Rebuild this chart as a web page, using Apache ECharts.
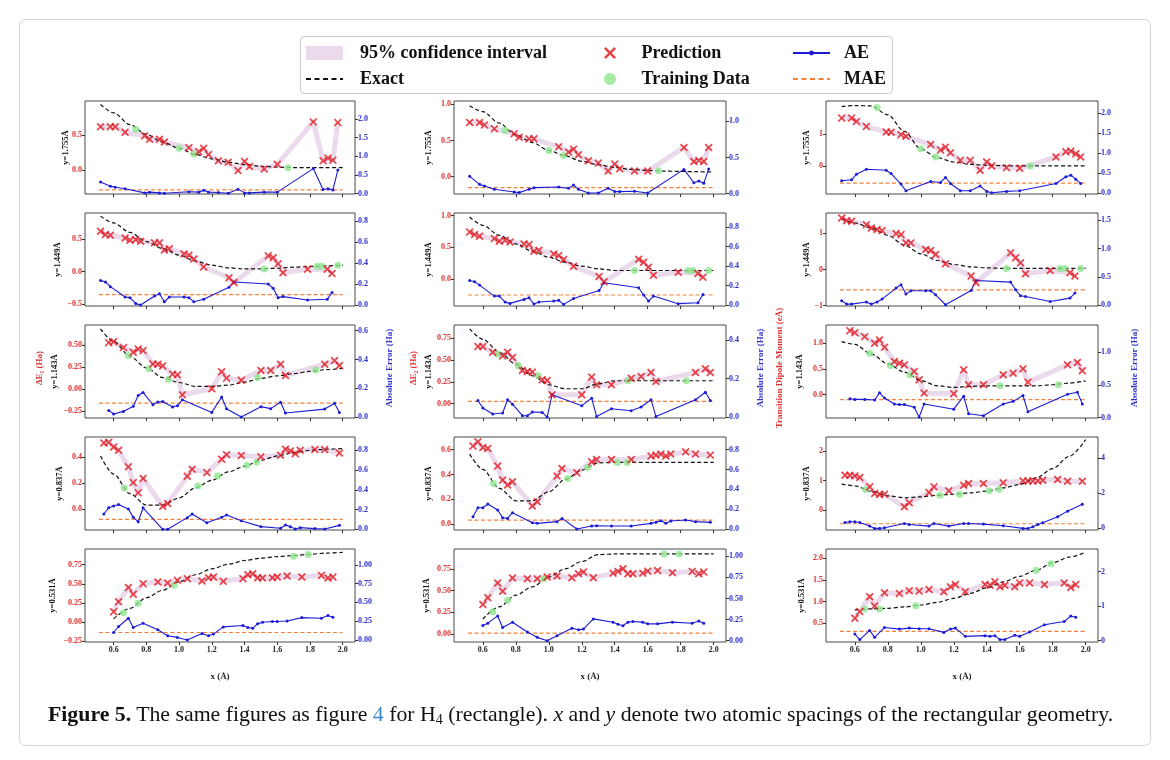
<!DOCTYPE html>
<html><head><meta charset="utf-8">
<script src="https://cdn.jsdelivr.net/npm/echarts@6/dist/echarts.min.js"></script>
<style>html,body{margin:0;padding:0;background:#fff}#c{width:1170px;height:760px}</style>
</head><body><div id="c"></div>
<script>
// ---------------- DATA ----------------
const xTickLabels = ['0.6','0.8','1.0','1.2','1.4','1.6','1.8','2.0'];
const rowNames = ['y=1.755Å','y=1.449Å','y=1.143Å','y=0.837Å','y=0.531Å'];

// test-point x per row
const xRow1 = [0.52,0.58,0.61,0.67,0.79,0.82,0.88,0.91,1.06,1.12,1.15,1.18,1.24,1.30,1.36,1.40,1.43,1.52,1.60,1.82,1.88,1.91,1.94,1.97];
const xRow2 = [0.52,0.55,0.58,0.67,0.70,0.735,0.765,0.85,0.88,0.91,0.94,1.03,1.06,1.09,1.15,1.305,1.335,1.545,1.575,1.605,1.635,1.785,1.905,1.935];
const xRow3 = [0.57,0.60,0.66,0.72,0.75,0.78,0.84,0.87,0.90,0.96,0.99,1.02,1.20,1.26,1.29,1.38,1.50,1.56,1.62,1.65,1.89,1.95,1.98];
const xRow4 = [0.54,0.57,0.60,0.63,0.69,0.72,0.75,0.78,0.90,0.93,1.05,1.08,1.17,1.26,1.29,1.38,1.50,1.62,1.65,1.68,1.71,1.74,1.83,1.89,1.98];
const xRow5 = [0.60,0.63,0.69,0.72,0.78,0.87,0.93,0.99,1.05,1.14,1.18,1.21,1.27,1.39,1.42,1.45,1.48,1.51,1.57,1.60,1.66,1.75,1.87,1.91,1.94];

// training x per row
const trainX1 = [0.735,1.0,1.09,1.665];
const trainX2 = [1.52,1.845,1.875,1.97];
const trainX3 = [0.69,0.815,0.935,1.48,1.835];
const trainX4 = [0.665,1.115,1.235,1.415,1.475];
const trainX5 = [0.66,0.75,0.97,1.70,1.79];

// exact-curve x
const exactX = [0.52,0.6,0.7,0.8,0.9,1.0,1.1,1.2,1.3,1.4,1.5,1.6,1.7,1.8,1.9,2.0];
const exactX5 = [0.6,0.7,0.8,0.9,1.0,1.1,1.2,1.3,1.4,1.5,1.6,1.7,1.8,1.9,2.0];
const maeX = [0.51,2.0];

// ---- row 1 (y=1.755) ----
const r1c1Pred = [0.62,0.62,0.62,0.54,0.49,0.44,0.44,0.40,0.32,0.26,0.31,0.22,0.13,0.11,-0.01,0.12,0.05,0.014,0.08,0.69,0.13,0.17,0.14,0.68];
const r1c1AE = [0.31,0.20,0.17,0.13,0.02,0.04,0.02,0.01,0.05,0.04,0.09,0.04,0.03,0.01,0.12,0.02,0.02,0.04,0.04,0.67,0.11,0.13,0.10,0.63];
const r1c1Exact = [0.94,0.82,0.65,0.51,0.40,0.31,0.22,0.16,0.11,0.077,0.053,0.04,0.034,0.034,0.034,0.034];
const r1c1Train = [0.58,0.31,0.23,0.03];
const r1c1MAE = 0.10;

const r1c2Pred = [0.748,0.748,0.716,0.661,0.592,0.546,0.523,0.523,0.413,0.339,0.381,0.303,0.22,0.188,0.078,0.174,0.11,0.078,0.078,0.404,0.211,0.225,0.211,0.404];
const r1c2AE = [0.239,0.128,0.106,0.06,0.023,0.014,0.06,0.083,0.092,0.073,0.119,0.06,0.009,0.009,0.073,0.028,0.028,0.032,0.009,0.335,0.151,0.174,0.142,0.339];
const r1c2Exact = [0.98,0.90,0.739,0.578,0.472,0.362,0.289,0.211,0.165,0.128,0.10,0.087,0.078,0.073,0.069,0.064];
const r1c2Train = [0.642,0.362,0.294,0.083];
const r1c2MAE = 0.083;

const r1c3Pred = [1.495,1.495,1.392,1.237,1.062,1.052,0.979,0.928,0.67,0.495,0.588,0.412,0.175,0.175,-0.134,0.124,0.0,-0.052,-0.072,0.278,0.443,0.464,0.381,0.278];
const r1c3AE = [0.313,0.337,0.477,0.60,0.576,0.494,0.23,0.066,0.296,0.272,0.395,0.247,0.066,0.066,0.181,0.049,0.016,0.049,0.066,0.247,0.412,0.453,0.354,0.247];
const r1c3Exact = [1.856,1.887,1.876,1.598,1.082,0.536,0.258,0.124,0.052,0.02,0.01,0.0,0.0,0.0,0.0,0.0];
const r1c3Train = [1.825,0.536,0.278,0.0];
const r1c3MAE = 0.255;

// ---- row 2 (y=1.449) ----
const r2c1Pred = [0.617,0.566,0.556,0.515,0.48,0.49,0.464,0.44,0.44,0.33,0.35,0.27,0.25,0.19,0.07,-0.097,-0.17,0.24,0.21,0.117,-0.02,0.036,0.036,-0.03];
const r2c1AE = [0.235,0.22,0.175,0.076,0.07,0.013,0.0,0.086,0.108,0.03,0.076,0.076,0.07,0.03,0.054,0.17,0.22,0.20,0.16,0.07,0.08,0.048,0.054,0.12];
const r2c1Exact = [0.85,0.745,0.60,0.46,0.35,0.25,0.16,0.097,0.056,0.04,0.04,0.05,0.066,0.077,0.087,0.097];
const r2c1Train = [0.04,0.08,0.08,0.097];
const r2c1MAE = 0.098;

const r2c2Pred = [0.742,0.70,0.674,0.637,0.595,0.611,0.584,0.553,0.542,0.437,0.453,0.395,0.368,0.305,0.20,0.037,-0.047,0.311,0.263,0.184,0.058,0.105,0.084,0.026];
const r2c2AE = [0.253,0.239,0.205,0.092,0.092,0.03,0.017,0.058,0.075,0.01,0.031,0.041,0.048,0.007,0.068,0.15,0.229,0.178,0.103,0.041,0.092,0.014,0.024,0.109];
const r2c2Exact = [0.979,0.847,0.689,0.553,0.437,0.342,0.263,0.20,0.158,0.132,0.132,0.132,0.132,0.132,0.132,0.132];
const r2c2Train = [0.132,0.132,0.132,0.132];
const r2c2MAE = 0.103;

const r2c3Pred = [1.429,1.355,1.336,1.244,1.152,1.106,1.078,0.995,0.968,0.737,0.737,0.553,0.525,0.415,0.157,-0.184,-0.369,0.461,0.323,0.184,-0.12,-0.028,-0.092,-0.184];
const r2c3AE = [0.082,0.023,0.023,0.059,0.023,0.059,0.111,0.305,0.363,0.199,0.258,0.258,0.258,0.187,0.012,0.264,0.439,0.41,0.275,0.17,0.158,0.07,0.129,0.217];
const r2c3Exact = [1.41,1.29,1.152,0.949,0.673,0.433,0.249,0.138,0.074,0.046,0.028,0.028,0.028,0.028,0.028,0.028];
const r2c3Train = [0.028,0.028,0.028,0.028];
const r2c3MAE = 0.275;

// ---- row 3 (y=1.143) ----
const r3c1Pred = [0.525,0.536,0.469,0.416,0.454,0.435,0.285,0.281,0.262,0.169,0.161,-0.064,0.004,0.195,0.124,0.101,0.21,0.21,0.281,0.154,0.281,0.322,0.266];
const r3c1AE = [0.046,0.021,0.039,0.074,0.15,0.171,0.085,0.104,0.108,0.07,0.078,0.12,0.032,0.139,0.058,0.0,0.072,0.058,0.102,0.028,0.055,0.095,0.032];
const r3c1Exact = [0.68,0.54,0.37,0.24,0.13,0.075,0.03,0.03,0.045,0.08,0.12,0.15,0.175,0.20,0.22,0.235];
const r3c1Train = [0.379,0.229,0.112,0.131,0.217];
const r3c1MAE = 0.097;

const r3c2Pred = [0.655,0.655,0.59,0.548,0.59,0.529,0.381,0.369,0.362,0.274,0.266,0.103,0.103,0.305,0.217,0.217,0.293,0.312,0.358,0.255,0.358,0.40,0.358];
const r3c2AE = [0.086,0.047,0.016,0.021,0.09,0.067,0.007,0.007,0.026,0.024,0.0,0.116,0.059,0.098,0.003,0.043,0.033,0.052,0.09,0.003,0.09,0.129,0.086];
const r3c2Exact = [0.857,0.739,0.59,0.453,0.32,0.217,0.171,0.171,0.228,0.263,0.263,0.263,0.263,0.263,0.263,0.263];
const r3c2Train = [0.571,0.434,0.324,0.263,0.263];
const r3c2MAE = 0.081;

const r3c3Pred = [1.245,1.206,1.129,1.0,1.065,0.923,0.645,0.613,0.581,0.452,0.29,0.032,0.019,0.484,0.194,0.194,0.387,0.419,0.503,0.245,0.581,0.626,0.465];
const r3c3AE = [0.29,0.28,0.28,0.27,0.38,0.30,0.21,0.20,0.20,0.16,0.01,0.21,0.13,0.33,0.06,0.03,0.21,0.25,0.34,0.09,0.36,0.39,0.21];
const r3c3Exact = [1.032,0.98,0.79,0.60,0.44,0.277,0.174,0.142,0.161,0.174,0.174,0.174,0.174,0.194,0.226,0.271];
const r3c3Train = [0.806,0.568,0.387,0.174,0.194];
const r3c3MAE = 0.276;

// ---- row 4 (y=0.837) ----
const r4c1Pred = [0.51,0.515,0.479,0.454,0.326,0.205,0.126,0.236,0.023,0.044,0.254,0.308,0.282,0.385,0.42,0.413,0.403,0.415,0.462,0.449,0.428,0.454,0.459,0.459,0.433];
const r4c1AE = [0.155,0.218,0.235,0.252,0.205,0.121,0.077,0.218,0.0,0.0,0.118,0.155,0.067,0.121,0.145,0.087,0.027,0.01,0.044,0.027,0.003,0.017,0.007,0.003,0.04];
const r4c1Exact = [0.41,0.27,0.12,0.031,0.031,0.087,0.164,0.223,0.287,0.331,0.377,0.41,0.436,0.454,0.462,0.467];
const r4c1Train = [0.164,0.179,0.256,0.338,0.364];
const r4c1MAE = 0.10;

const r4c2Pred = [0.627,0.661,0.616,0.608,0.467,0.355,0.315,0.341,0.147,0.181,0.387,0.448,0.413,0.501,0.52,0.52,0.52,0.547,0.555,0.563,0.547,0.563,0.581,0.563,0.555];
const r4c2AE = [0.124,0.214,0.214,0.251,0.191,0.114,0.107,0.164,0.064,0.057,0.074,0.107,0.0,0.03,0.033,0.03,0.03,0.057,0.067,0.084,0.057,0.08,0.09,0.074,0.067];
const r4c2Exact = [0.563,0.44,0.288,0.189,0.189,0.261,0.36,0.435,0.493,0.496,0.496,0.496,0.496,0.496,0.496,0.496];
const r4c2Train = [0.328,0.368,0.456,0.496,0.496];
const r4c2MAE = 0.09;

const r4c3Pred = [1.186,1.186,1.164,1.107,0.791,0.565,0.531,0.542,0.113,0.249,0.599,0.791,0.655,0.847,0.904,0.904,0.927,0.994,0.994,0.994,0.994,1.017,1.04,0.983,0.983];
const r4c3AE = [0.34,0.377,0.377,0.34,0.132,0.0,0.0,0.038,0.283,0.226,0.132,0.283,0.132,0.283,0.283,0.245,0.151,0.0,0.0,0.094,0.226,0.32,0.66,0.981,1.377];
const r4c3Exact = [0.881,0.825,0.64,0.486,0.418,0.452,0.50,0.542,0.588,0.644,0.757,0.87,1.096,1.412,1.83,2.40];
const r4c3Train = [0.70,0.508,0.542,0.655,0.712];
const r4c3MAE = 0.264;

// ---- row 5 (y=0.531) ----
const r5c1Pred = [0.137,0.266,0.451,0.365,0.502,0.524,0.511,0.545,0.567,0.536,0.579,0.588,0.532,0.567,0.618,0.631,0.579,0.575,0.579,0.588,0.601,0.588,0.609,0.575,0.588];
const r5c1AE = [0.10,0.18,0.29,0.167,0.224,0.136,0.057,0.035,0.0,0.088,0.057,0.079,0.175,0.193,0.167,0.158,0.215,0.237,0.246,0.246,0.254,0.298,0.29,0.325,0.303];
const r5c1Exact = [0.043,0.18,0.318,0.416,0.524,0.618,0.695,0.755,0.803,0.833,0.854,0.867,0.885,0.90,0.91];
const r5c1Train = [0.124,0.245,0.48,0.858,0.88];
const r5c1MAE = 0.10;

const r5c2Pred = [0.341,0.417,0.587,0.492,0.644,0.636,0.636,0.655,0.667,0.648,0.693,0.712,0.648,0.70,0.72,0.75,0.693,0.693,0.70,0.723,0.731,0.705,0.72,0.693,0.712];
const r5c2AE = [0.18,0.207,0.293,0.156,0.219,0.102,0.039,0.0,0.059,0.148,0.129,0.137,0.258,0.219,0.195,0.176,0.219,0.227,0.219,0.199,0.199,0.219,0.207,0.234,0.207];
const r5c2Exact = [0.174,0.314,0.447,0.542,0.655,0.75,0.833,0.913,0.92,0.92,0.92,0.92,0.92,0.92,0.92];
const r5c2Train = [0.258,0.39,0.636,0.92,0.92];
const r5c2MAE = 0.09;

const r5c3Pred = [0.614,0.766,1.109,0.896,1.2,1.186,1.247,1.239,1.277,1.223,1.337,1.39,1.223,1.39,1.375,1.452,1.337,1.375,1.337,1.428,1.428,1.39,1.428,1.322,1.39];
const r5c3AE = [0.19,0.029,0.295,0.095,0.381,0.333,0.362,0.343,0.343,0.238,0.333,0.362,0.124,0.143,0.124,0.143,0.029,0.029,0.152,0.124,0.248,0.457,0.552,0.714,0.676];
const r5c3Exact = [0.804,0.83,0.842,0.873,0.918,0.979,1.071,1.185,1.314,1.451,1.58,1.718,1.893,2.023,2.137];
const r5c3Train = [0.827,0.827,0.903,1.718,1.87];
const r5c3MAE = 0.267;

// tick labels (left = quantity axis, right = absolute error axis)
const r1c1L = ['0.0','0.5'],                 r1c1R = ['0.0','0.5','1.0','1.5','2.0'];
const r1c2L = ['0.0','0.5','1.0'],           r1c2R = ['0.0','0.5','1.0'];
const r1c3L = ['0','1'],                     r1c3R = ['0.0','0.5','1.0','1.5','2.0'];
const r2c1L = ['−0.5','0.0','0.5'],          r2c1R = ['0.0','0.2','0.4','0.6','0.8'];
const r2c2L = ['0.0','0.5','1.0'],           r2c2R = ['0.0','0.2','0.4','0.6','0.8'];
const r2c3L = ['−1','0','1'],                r2c3R = ['0.0','0.5','1.0','1.5'];
const r3c1L = ['−0.25','0.00','0.25','0.50'], r3c1R = ['0.0','0.2','0.4','0.6'];
const r3c2L = ['0.00','0.25','0.50','0.75'], r3c2R = ['0.0','0.2','0.4'];
const r3c3L = ['0.0','0.5','1.0'],           r3c3R = ['0.0','0.5','1.0'];
const r4c1L = ['0.0','0.2','0.4'],           r4c1R = ['0.0','0.2','0.4','0.6','0.8'];
const r4c2L = ['0.0','0.2','0.4','0.6'],     r4c2R = ['0.0','0.2','0.4','0.6','0.8'];
const r4c3L = ['0','1','2'],                 r4c3R = ['0','2','4'];
const r5c1L = ['−0.25','0.00','0.25','0.50','0.75'], r5c1R = ['0.00','0.25','0.50','0.75','1.00'];
const r5c2L = ['0.00','0.25','0.50','0.75'], r5c2R = ['0.00','0.25','0.50','0.75','1.00'];
const r5c3L = ['0.5','1.0','1.5','2.0'],     r5c3R = ['0','1','2'];

// ---------------- LAYOUT / STYLE ----------------
const FONT = '"Liberation Serif","DejaVu Serif",serif';
const RED = '#dc3030', BLUE = '#2f2fcc';
const colLeft = [85, 454, 826], colW = [270, 272, 272];
const rowTop = [101, 213, 325, 437, 549], rowH = 93;
const rowX = [xRow1, xRow2, xRow3, xRow4, xRow5];
const rowTrainX = [trainX1, trainX2, trainX3, trainX4, trainX5];
const rowExactX = [exactX, exactX, exactX, exactX, exactX5];

const panels = [
  {pred:r1c1Pred, ae:r1c1AE, ex:r1c1Exact, tr:r1c1Train, mae:r1c1MAE, L:r1c1L, R:r1c1R, lr:[-0.346,0.99], rr:[-0.01,2.48], gap:15},
  {pred:r1c2Pred, ae:r1c2AE, ex:r1c2Exact, tr:r1c2Train, mae:r1c2MAE, L:r1c2L, R:r1c2R, lr:[-0.239,1.046], rr:[-0.005,1.28], gap:21},
  {pred:r1c3Pred, ae:r1c3AE, ex:r1c3Exact, tr:r1c3Train, mae:r1c3MAE, L:r1c3L, R:r1c3R, lr:[-0.876,2.03], rr:[-0.016,2.30], gap:15},
  {pred:r2c1Pred, ae:r2c1AE, ex:r2c1Exact, tr:r2c1Train, mae:r2c1MAE, L:r2c1L, R:r2c1R, lr:[-0.53,0.898], rr:[-0.01,0.88], gap:23},
  {pred:r2c2Pred, ae:r2c2AE, ex:r2c2Exact, tr:r2c2Train, mae:r2c2MAE, L:r2c2L, R:r2c2R, lr:[-0.43,1.042], rr:[-0.01,0.947], gap:21},
  {pred:r2c3Pred, ae:r2c3AE, ex:r2c3Exact, tr:r2c3Train, mae:r2c3MAE, L:r2c3L, R:r2c3R, lr:[-1.014,1.567], rr:[-0.01,1.624], gap:15},
  {pred:r3c1Pred, ae:r3c1AE, ex:r3c1Exact, tr:r3c1Train, mae:r3c1MAE, L:r3c1L, R:r3c1R, lr:[-0.326,0.724], rr:[-0.007,0.64], gap:26},
  {pred:r3c2Pred, ae:r3c2AE, ex:r3c2Exact, tr:r3c2Train, mae:r3c2MAE, L:r3c2L, R:r3c2R, lr:[-0.164,0.902], rr:[-0.005,0.478], gap:21},
  {pred:r3c3Pred, ae:r3c3AE, ex:r3c3Exact, tr:r3c3Train, mae:r3c3MAE, L:r3c3L, R:r3c3R, lr:[-0.452,1.355], rr:[-0.005,1.42], gap:22},
  {pred:r4c1Pred, ae:r4c1AE, ex:r4c1Exact, tr:r4c1Train, mae:r4c1MAE, L:r4c1L, R:r4c1R, lr:[-0.16,0.556], rr:[-0.007,0.934], gap:21},
  {pred:r4c2Pred, ae:r4c2AE, ex:r4c2Exact, tr:r4c2Train, mae:r4c2MAE, L:r4c2L, R:r4c2R, lr:[-0.045,0.70], rr:[-0.01,0.927], gap:21},
  {pred:r4c3Pred, ae:r4c3AE, ex:r4c3Exact, tr:r4c3Train, mae:r4c3MAE, L:r4c3L, R:r4c3R, lr:[-0.68,2.49], rr:[-0.09,5.19], gap:15},
  {pred:r5c1Pred, ae:r5c1AE, ex:r5c1Exact, tr:r5c1Train, mae:r5c1MAE, L:r5c1L, R:r5c1R, lr:[-0.258,0.953], rr:[-0.026,1.21], gap:28},
  {pred:r5c2Pred, ae:r5c2AE, ex:r5c2Exact, tr:r5c2Train, mae:r5c2MAE, L:r5c2L, R:r5c2R, lr:[-0.09,0.977], rr:[-0.016,1.086], gap:23},
  {pred:r5c3Pred, ae:r5c3AE, ex:r5c3Exact, tr:r5c3Train, mae:r5c3MAE, L:r5c3L, R:r5c3R, lr:[0.065,2.21], rr:[-0.04,2.65], gap:20}
];

const num = s => parseFloat(String(s).replace('−', '-'));
function fmt(labels) {
  const vals = labels.map(num);
  return v => {
    let best = 0, bd = Infinity;
    vals.forEach((x, i) => { const d = Math.abs(x - v); if (d < bd) { bd = d; best = i; } });
    return labels[best];
  };
}
const zip = (xs, ys) => xs.map((x, k) => [x, ys[k]]);
const XMARK = 'path://M0,1.5L1.5,0L5,3.5L8.5,0L10,1.5L6.5,5L10,8.5L8.5,10L5,6.5L1.5,10L0,8.5L3.5,5Z';
const BAND = '#ebd9ec';
const xTickVals = xTickLabels.map(num);

const grids = [], xAxes = [], yAxes = [], series = [];
const tickStyle = {show: true, length: 3, lineStyle: {color: '#333', width: 1}};
panels.forEach((p, i) => {
  const r = Math.floor(i / 3), c = i % 3;
  grids.push({left: colLeft[c], top: rowTop[r], width: colW[c], height: rowH,
    show: true, borderColor: '#4a4a4a', borderWidth: 1, backgroundColor: 'transparent'});
  xAxes.push({gridIndex: i, type: 'value', min: 0.425, max: 2.075, position: 'bottom',
    axisLine: {show: false, onZero: false}, splitLine: {show: false},
    axisTick: Object.assign({customValues: xTickVals}, tickStyle),
    axisLabel: {show: r === 4, customValues: xTickVals, formatter: fmt(xTickLabels), color: '#222',
      fontFamily: FONT, fontWeight: 'bold', fontSize: 8, margin: 4},
    name: r === 4 ? 'x (Å)' : '', nameLocation: 'middle', nameGap: 30, nameMoveOverlap: false,
    nameTextStyle: {color: '#222', fontFamily: FONT, fontWeight: 'bold', fontSize: 9}});
  const lv = p.L.map(num), rv = p.R.map(num);
  yAxes.push({gridIndex: i, type: 'value', position: 'left', min: p.lr[0], max: p.lr[1],
    axisLine: {show: false, onZero: false}, splitLine: {show: false},
    axisTick: Object.assign({customValues: lv}, tickStyle),
    axisLabel: {customValues: lv, formatter: fmt(p.L), color: RED, fontFamily: FONT, fontWeight: 'bold', fontSize: 8, margin: 3},
    name: rowNames[r], nameLocation: 'middle', nameRotate: 90, nameGap: p.gap, nameMoveOverlap: false,
    nameTextStyle: {color: '#111', fontFamily: FONT, fontWeight: 'bold', fontSize: 8.5}});
  yAxes.push({gridIndex: i, type: 'value', position: 'right', min: p.rr[0], max: p.rr[1],
    axisLine: {show: false, onZero: false}, splitLine: {show: false},
    axisTick: Object.assign({customValues: rv}, tickStyle),
    axisLabel: {customValues: rv, formatter: fmt(p.R), color: BLUE, fontFamily: FONT, fontWeight: 'bold', fontSize: 8, margin: 3}});
  const xs = rowX[r], yl = 2 * i, yr = 2 * i + 1;
  series.push({type: 'line', name: '95% confidence interval', xAxisIndex: i, yAxisIndex: yl,
    data: zip(xs, p.pred), symbol: 'none', silent: true, z: 1,
    itemStyle: {color: BAND}, lineStyle: {color: BAND, width: 5, join: 'round'}});
  series.push({type: 'line', name: 'Exact', xAxisIndex: i, yAxisIndex: yl,
    data: zip(rowExactX[r], p.ex), symbol: 'none', smooth: 0.3, smoothMonotone: 'x', silent: true, z: 2,
    itemStyle: {color: '#111'}, lineStyle: {color: '#111', width: 1.2, type: [4, 2.5]}});
  series.push({type: 'line', name: 'MAE', xAxisIndex: i, yAxisIndex: yr,
    data: zip(maeX, [p.mae, p.mae]), symbol: 'none', silent: true, z: 2,
    itemStyle: {color: '#f4813a'}, lineStyle: {color: '#f4813a', width: 1.2, type: [4, 2.5]}});
  series.push({type: 'line', name: 'AE', xAxisIndex: i, yAxisIndex: yr,
    data: zip(xs, p.ae), symbol: 'circle', symbolSize: 3, showSymbol: true, silent: true, z: 3,
    itemStyle: {color: '#1c1cd6'}, lineStyle: {color: '#1c1cd6', width: 1.1}});
  series.push({type: 'scatter', name: 'Training Data', xAxisIndex: i, yAxisIndex: yl,
    data: zip(rowTrainX[r], p.tr), symbol: 'circle', symbolSize: 7, silent: true, z: 4,
    itemStyle: {color: '#8ee68e'}});
  series.push({type: 'scatter', name: 'Prediction', xAxisIndex: i, yAxisIndex: yl,
    data: zip(xs, p.pred), symbol: XMARK, symbolSize: 8, silent: true, z: 5,
    itemStyle: {color: '#e3161c'}});
});

const legText = pad => ({fontFamily: FONT, fontWeight: 'bold', fontSize: 18, color: '#111', padding: [0, 0, 0, pad]});
const legBase = {orient: 'vertical', top: 39, itemWidth: 37, itemGap: 8, selectedMode: false};
const hideSym = {opacity: 0};

const vText = (x, y, text, color) => ({type: 'text', x: x, y: y, rotation: Math.PI / 2,
  style: {text: text, fill: color, font: 'bold 9px ' + FONT, align: 'center', verticalAlign: 'middle'}});

const option = {
  animation: false,
  backgroundColor: '#fff',
  grid: grids, xAxis: xAxes, yAxis: yAxes, series: series,
  legend: [
    Object.assign({}, legBase, {left: 300, itemHeight: 14, textStyle: legText(12),
      data: [{name: '95% confidence interval', icon: 'rect', itemStyle: {color: BAND}},
             {name: 'Exact', itemStyle: hideSym, lineStyle: {width: 2, type: [5, 3.5]}}]}),
    Object.assign({}, legBase, {left: 599, itemHeight: 12, textStyle: legText(8),
      data: ['Prediction', 'Training Data']}),
    Object.assign({}, legBase, {left: 787, itemHeight: 6, textStyle: legText(9),
      data: [{name: 'AE', lineStyle: {width: 2}},
             {name: 'MAE', itemStyle: hideSym, lineStyle: {width: 2, type: [5, 3.5]}}]})
  ],
  title: {
    left: 43, top: 699,
    text: '{b|Figure 5.} {n|The same figures as figure }{l|4}{n| for H}{s|4}{n| (rectangle). }{i|x}{n| and }{i|y}{n| denote two atomic spacings of the rectangular geometry.}',
    textStyle: {fontWeight: 'normal', rich: {
      b: {fontFamily: FONT, fontWeight: 'bold', fontSize: 21.8, color: '#111'},
      n: {fontFamily: FONT, fontWeight: 'normal', fontSize: 21.8, color: '#111'},
      l: {fontFamily: FONT, fontWeight: 'normal', fontSize: 21.8, color: '#3a86c6'},
      i: {fontFamily: FONT, fontWeight: 'normal', fontSize: 21.8, fontStyle: 'italic', color: '#111'},
      s: {fontFamily: FONT, fontWeight: 'normal', fontSize: 14, color: '#111', padding: [9, 0, 0, 0]}
    }}
  },
  graphic: [
    {type: 'rect', shape: {x: 19.5, y: 19.5, width: 1131, height: 726, r: 6}, style: {fill: 'none', stroke: '#d2d2d2', lineWidth: 1}, z: -1},
    {type: 'rect', shape: {x: 300.5, y: 36.5, width: 592, height: 57, r: 4}, style: {fill: 'none', stroke: '#c8c8c8', lineWidth: 1}},
    vText(40, 368, 'ΔE₁ (Ha)', RED),
    vText(390, 368, 'Absolute Error (Ha)', BLUE),
    vText(414, 368, 'ΔE₂ (Ha)', RED),
    vText(761, 368, 'Absolute Error (Ha)', BLUE),
    vText(780, 368, 'Transition Dipole Moment (eÅ)', RED),
    vText(1135, 368, 'Absolute Error (Ha)', BLUE)
  ]
};
const chart = echarts.init(document.getElementById('c'), null, {renderer: 'canvas'});
chart.setOption(option);
</script>
</body></html>
